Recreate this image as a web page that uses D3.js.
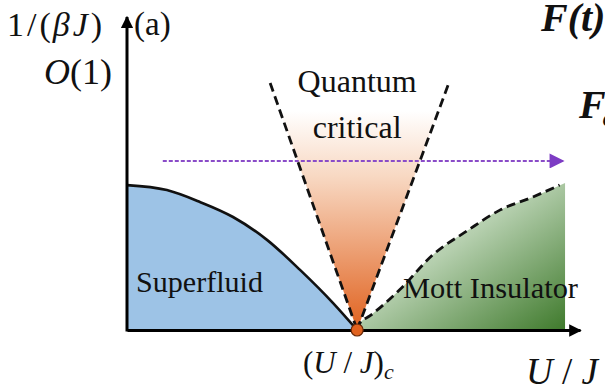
<!DOCTYPE html>
<html>
<head>
<meta charset="utf-8">
<script src="https://cdn.jsdelivr.net/npm/d3@7"></script>
<style>
  html, body { margin: 0; padding: 0; background: #fff; }
</style>
</head>
<body>
<svg id="chart" width="605" height="391"></svg>
<script>
// ---- data (U/J on x, 1/(βJ) on y, arbitrary units) ----
const criticalU = 5.08;
const superfluidU = [0, 0.88, 1.61, 2.34, 3.09, 3.82, 4.55, 5.08];
const superfluidT = [4.63, 4.47, 4.09, 3.61, 2.88, 1.92, 0.86, 0];
const mottU = [5.08, 5.14, 5.36, 6.03, 6.75, 7.51, 8.23, 8.96, 9.67];
const mottT = [0, 0.22, 0.45, 1.30, 2.40, 3.17, 3.83, 4.25, 4.70];
const coneLeftU = [3.16, 5.08];
const coneLeftT = [7.89, 0];
const coneRightU = [5.08, 7.09];
const coneRightT = [0, 7.83];
const quenchT = 5.40;
const quenchU = [0.79, 9.67];

const SERIF = "'Liberation Serif', 'DejaVu Serif', serif";

const svg = d3.select("#chart");
const x = d3.scaleLinear().domain([0, 10]).range([127, 580]);
const y = d3.scaleLinear().domain([0, 10]).range([330, 17]);

const defs = svg.append("defs");
const og = defs.append("linearGradient").attr("id", "orangeGrad")
  .attr("gradientUnits", "userSpaceOnUse")
  .attr("x1", 0).attr("y1", y(7.0)).attr("x2", 0).attr("y2", y(0));
og.append("stop").attr("offset", 0).attr("stop-color", "#ffffff");
og.append("stop").attr("offset", 0.3).attr("stop-color", "#f8d8c2");
og.append("stop").attr("offset", 1).attr("stop-color", "#e0621f");

const gg = defs.append("linearGradient").attr("id", "greenGrad")
  .attr("x1", 0).attr("y1", 0).attr("x2", 1).attr("y2", 1);
gg.append("stop").attr("offset", 0).attr("stop-color", "#f4f7f2");
gg.append("stop").attr("offset", 0.45).attr("stop-color", "#b5cfae");
gg.append("stop").attr("offset", 1).attr("stop-color", "#3f7a2c");

defs.append("marker").attr("id", "blackArrow")
  .attr("viewBox", "0 0 10 10").attr("refX", 9).attr("refY", 5)
  .attr("markerWidth", 4.2).attr("markerHeight", 4.2).attr("markerUnits", "strokeWidth")
  .attr("orient", "auto")
  .append("path").attr("d", "M0,0L10,5L0,10Z").attr("fill", "#000");
defs.append("marker").attr("id", "purpleArrow")
  .attr("viewBox", "0 0 10 10").attr("refX", 9).attr("refY", 5)
  .attr("markerWidth", 8.5).attr("markerHeight", 7.5).attr("markerUnits", "strokeWidth")
  .attr("orient", "auto")
  .append("path").attr("d", "M0,0L10,5L0,10Z").attr("fill", "#7d3cc4");

const mottPts = mottU.map((u, i) => [u, mottT[i]]);
const sfPts = superfluidU.map((u, i) => [u, superfluidT[i]]);

const mottArea = d3.area().x(d => x(d[0])).y0(y(0)).y1(d => y(d[1])).curve(d3.curveMonotoneX);
svg.append("path").datum(mottPts).attr("d", mottArea).attr("fill", "url(#greenGrad)");

const sfArea = d3.area().x(d => x(d[0])).y0(y(0)).y1(d => y(d[1])).curve(d3.curveMonotoneX);
svg.append("path").datum(sfPts).attr("d", sfArea).attr("fill", "#9dc3e6");

const conePts = [[coneLeftU[0], coneLeftT[0]], [criticalU, 0], [coneRightU[1], coneRightT[1]]];
svg.append("path")
  .attr("d", d3.line().x(d => x(d[0])).y(d => y(d[1]))(conePts) + "Z")
  .attr("fill", "url(#orangeGrad)");

const line = d3.line().x(d => x(d[0])).y(d => y(d[1]));
svg.append("path").datum(sfPts)
  .attr("d", line.curve(d3.curveMonotoneX))
  .attr("fill", "none").attr("stroke", "#111").attr("stroke-width", 2.6);

svg.append("line")
  .attr("x1", x(quenchU[0])).attr("x2", x(quenchU[1]) - 2)
  .attr("y1", y(quenchT)).attr("y2", y(quenchT))
  .attr("stroke", "#8a4cc8").attr("stroke-width", 2)
  .attr("stroke-dasharray", "4,2")
  .attr("marker-end", "url(#purpleArrow)");

const dashed = (pts, c) => svg.append("path").datum(pts)
  .attr("d", d3.line().x(d => x(d[0])).y(d => y(d[1])).curve(c))
  .attr("fill", "none").attr("stroke", "#111").attr("stroke-width", 2.8)
  .attr("stroke-dasharray", "9,5");
dashed(coneLeftU.map((u, i) => [u, coneLeftT[i]]), d3.curveLinear);
dashed(coneRightU.map((u, i) => [u, coneRightT[i]]), d3.curveLinear);
dashed(mottPts.slice(0, mottPts.length - 1).concat([[9.55, 4.63]]), d3.curveMonotoneX);

const xAxis = svg.append("g").attr("transform", `translate(0,${y(0)})`)
  .call(d3.axisBottom(x).tickValues([]).tickSizeOuter(0));
xAxis.select(".domain").attr("stroke", "#000").attr("stroke-width", 3)
  .attr("marker-end", "url(#blackArrow)");
const yAxis = svg.append("g").attr("transform", `translate(${x(0)},0)`)
  .call(d3.axisLeft(y).tickValues([]).tickSizeOuter(0));
yAxis.select(".domain").attr("stroke", "#000").attr("stroke-width", 3)
  .attr("d", `M0,${y(0) + 1.5}V${y(10)}`)
  .attr("marker-end", "url(#blackArrow)");

svg.append("circle").attr("cx", x(criticalU)).attr("cy", y(0)).attr("r", 6)
  .attr("fill", "#e0621f").attr("stroke", "#6b2a08").attr("stroke-width", 1.2);

// Texts
const txt = (xx, yy, size) => svg.append("text").attr("x", xx).attr("y", yy)
  .attr("font-size", size).attr("font-family", SERIF).attr("fill", "#111");

const t1 = txt(7, 36, 34);
t1.append("tspan").text("1");
t1.append("tspan").attr("dx", 3).text("/");
t1.append("tspan").attr("dx", 3).text("(");
t1.append("tspan").attr("dx", 2).attr("font-style", "italic").text("β");
t1.append("tspan").attr("dx", 3).attr("font-style", "italic").text("J");
t1.append("tspan").attr("dx", 3).text(")");

txt(134, 35, 33).text("(a)");

const t2 = txt(44, 84, 36);
t2.append("tspan").attr("font-style", "italic").text("O");
t2.append("tspan").text("(1)");

txt(541, 31, 40).attr("font-style", "italic").attr("font-weight", "bold").text("F(t)");
const fc = txt(579, 118, 40).attr("font-style", "italic").attr("font-weight", "bold");
fc.append("tspan").text("F");
fc.append("tspan").attr("font-size", 26).attr("dx", -3).attr("dy", 8).text("c");

txt(x(criticalU), 92, 32).attr("text-anchor", "middle").text("Quantum");
txt(x(criticalU), 138, 32).attr("text-anchor", "middle").text("critical");

txt(136, 292, 30).attr("textLength", 127).attr("lengthAdjust", "spacingAndGlyphs").text("Superfluid");
txt(403, 298, 30).attr("textLength", 175).attr("lengthAdjust", "spacingAndGlyphs").text("Mott Insulator");

const t3 = txt(303, 373, 31);
t3.append("tspan").text("(");
t3.append("tspan").attr("font-style", "italic").text("U");
t3.append("tspan").text(" / ");
t3.append("tspan").attr("font-style", "italic").text("J");
t3.append("tspan").text(")");
t3.append("tspan").attr("font-size", 22).attr("dy", 6).attr("font-style", "italic").text("c");

const t4 = txt(526, 384, 37);
t4.append("tspan").attr("font-style", "italic").text("U");
t4.append("tspan").text(" / ");
t4.append("tspan").attr("font-style", "italic").text("J");
</script>
</body>
</html>
